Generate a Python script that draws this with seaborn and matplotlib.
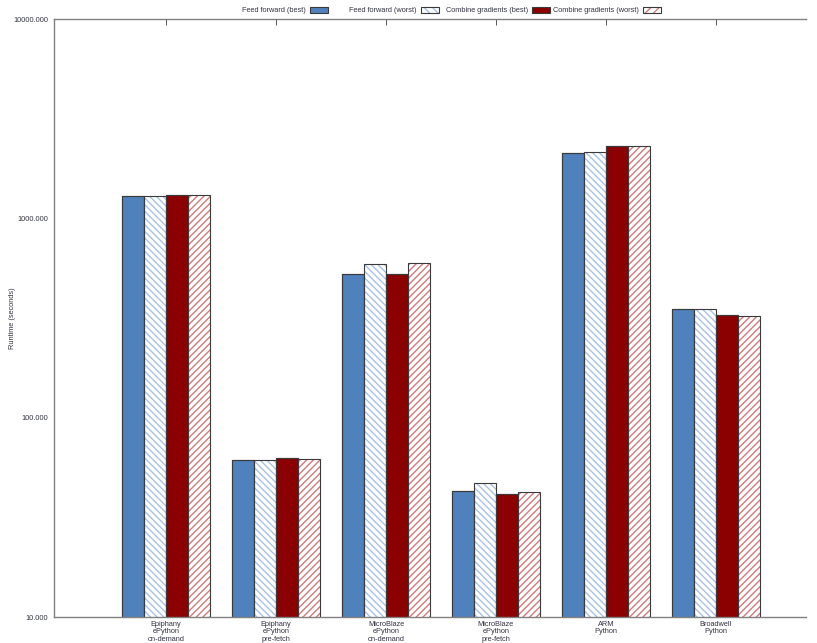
import matplotlib
matplotlib.use("Agg")
import matplotlib.pyplot as plt
from matplotlib.patches import Rectangle
import seaborn as sns
import pandas as pd

# Platforms on the x axis
platforms = [
    "Epiphany\nePython\non-demand",
    "Epiphany\nePython\npre-fetch",
    "MicroBlaze\nePython\non-demand",
    "MicroBlaze\nePython\npre-fetch",
    "ARM\nPython",
    "Broadwell\nPython",
]

series_names = [
    "Feed forward (best)",
    "Feed forward (worst)",
    "Combine gradients (best)",
    "Combine gradients (worst)",
]

# Runtime in seconds per platform
ff_best = [1290, 61.0, 528, 42.9, 2127, 349]
ff_worst = [1295, 61.4, 592, 46.9, 2143, 349]
cg_best = [1305, 62.6, 525, 41.3, 2297, 327]
cg_worst = [1310, 61.8, 600, 42.4, 2305, 325]

yticks = [10, 100, 1000, 10000]

series_values = [ff_best, ff_worst, cg_best, cg_worst]
rows = []
for name, vals in zip(series_names, series_values):
    for p, v in zip(platforms, vals):
        rows.append({"platform": p, "series": name, "runtime": v})
df = pd.DataFrame(rows)

sns.set_theme(style="white")
plt.rcParams["font.family"] = ["Liberation Sans", "DejaVu Sans"]
plt.rcParams["hatch.linewidth"] = 1.0

FS = 5.3
text_color = "#333344"
fill_colors = ["#4f81bd", "#ffffff", "#8b0000", "#ffffff"]
hatch_colors = [None, "#a7c2e6", None, "#d47a7a"]
hatches = [None, "\\" * 5, None, "/" * 5]
outline = "#3a3a3a"

fig = plt.figure(figsize=(8.17, 6.43), dpi=100)
ax = fig.add_axes([54 / 817, 1 - 617 / 643, (806 - 54) / 817, (617 - 19) / 643])

sns.barplot(data=df, x="platform", y="runtime", hue="series",
            hue_order=series_names, order=platforms,
            palette=fill_colors, width=0.8, gap=0, legend=False,
            saturation=1, ax=ax)

ax.set_yscale("log")

for i, cont in enumerate(ax.containers):
    for bar in cont:
        if hatches[i]:
            bar.set_facecolor("white")
            bar.set_hatch(hatches[i])
            bar.set_edgecolor(hatch_colors[i])
            bar.set_linewidth(0)
        else:
            bar.set_edgecolor(outline)
            bar.set_linewidth(0.8)
        # dark outline drawn on top of every bar
        ax.add_patch(Rectangle(bar.get_xy(), bar.get_width(), bar.get_height(),
                               fill=False, edgecolor=outline, linewidth=0.8,
                               zorder=bar.get_zorder() + 0.1))

ax.set_ylim(10, 10000)
ax.set_xlim(-1.02, 5.82)
ax.set_yticks(yticks)
ax.set_yticklabels([f"{t:.3f}" for t in yticks])
ax.set_xlabel("")
ax.set_ylabel("Runtime (seconds)", fontsize=FS, color=text_color)
ax.yaxis.set_label_coords(-0.05, 0.5)

ax.tick_params(axis="y", which="major", direction="in", length=5, width=0.7,
               labelsize=FS, labelcolor=text_color, color="#555555", pad=4)
ax.tick_params(axis="y", which="minor", direction="in", length=3, width=0.6,
               color="#555555")
ax.tick_params(axis="x", direction="in", top=True, bottom=True, length=4,
               width=0.7, labelsize=FS, labelcolor=text_color, color="#555555",
               pad=3)
for lbl in ax.get_xticklabels():
    lbl.set_linespacing(1.05)

for side in ["left", "bottom", "top"]:
    ax.spines[side].set_color("#808080")
    ax.spines[side].set_linewidth(1.0)
ax.spines["right"].set_visible(False)

# Key along the top edge: text followed by its sample box
key_hatches = [None, "\\" * 4, None, "/" * 4]
for i, name in enumerate(series_names):
    x_right = (306 + 111 * i) / 817
    fig.text(x_right, 1 - 10 / 643, name, ha="right", va="center",
             fontsize=FS, color=text_color)
    sx = (310 + 111 * i) / 817
    sy = 1 - 12.5 / 643
    sw = 18 / 817
    sh = 5 / 643
    if key_hatches[i]:
        fig.patches.append(Rectangle((sx, sy), sw, sh, transform=fig.transFigure,
                                     facecolor="white", hatch=key_hatches[i],
                                     edgecolor=hatch_colors[i], linewidth=0))
        fig.patches.append(Rectangle((sx, sy), sw, sh, transform=fig.transFigure,
                                     fill=False, edgecolor=outline, linewidth=0.8))
    else:
        fig.patches.append(Rectangle((sx, sy), sw, sh, transform=fig.transFigure,
                                     facecolor=fill_colors[i], edgecolor=outline,
                                     linewidth=0.8))

fig.savefig("out.png", dpi=100)
